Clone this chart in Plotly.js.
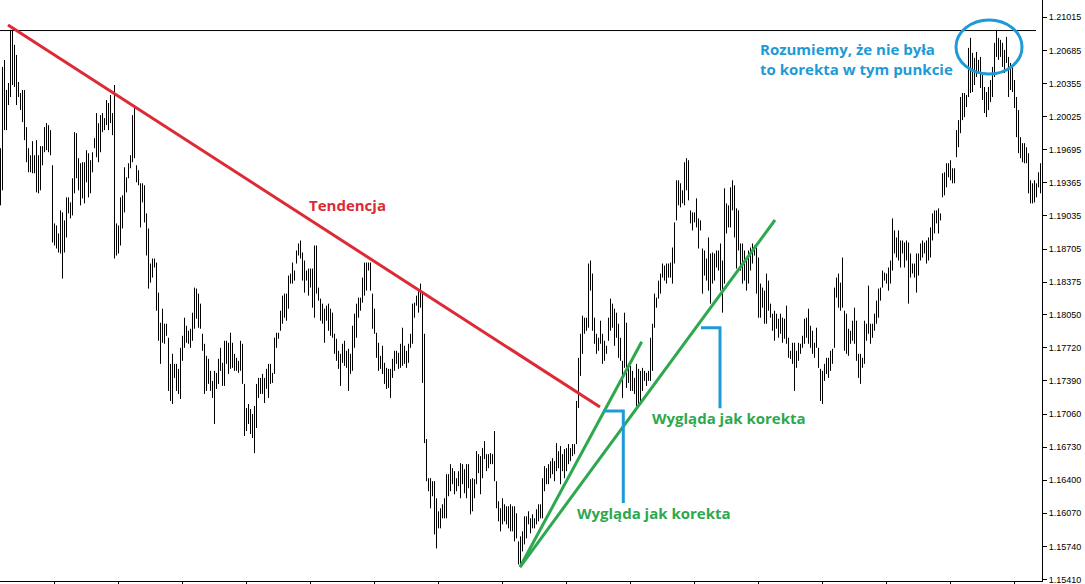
<!DOCTYPE html>
<html>
<head>
<meta charset="utf-8">
<script src="https://cdn.plot.ly/plotly-3.0.1.min.js"></script>
<style>
html, body { margin: 0; padding: 0; background: #fff; }
#chart { width: 1085px; height: 584px; }
</style>
</head>
<body>
<div id="chart"></div>
<script>
// Bar highs / lows, one per bar, left to right
var highs = [
1.1971,1.2052,1.2059,1.2029,1.2036,1.2089,1.2089,1.2074,1.2064,1.2037,
1.2026,1.2029,1.2029,1.1992,1.1971,1.1964,1.1978,1.1964,1.1979,1.1964,
1.1973,1.1973,1.1992,1.1996,1.1994,1.1989,1.1954,1.1896,1.1894,1.1886,
1.1909,1.1907,1.1899,1.1922,1.1922,1.1917,1.1941,1.1987,1.1986,1.1961,
1.1956,1.1957,1.1957,1.1969,1.1966,1.1959,1.1967,1.1981,1.2006,1.1996,
1.2004,1.2006,1.2001,1.2019,1.2016,1.2024,1.2006,1.2034,1.1896,1.1894,
1.1922,1.1924,1.1952,1.1942,1.1956,1.1964,1.2004,1.2014,1.1954,1.1949,
1.1936,1.1936,1.1934,1.1906,1.1891,1.1856,1.1861,1.1861,1.1857,1.1827,
1.1797,1.1811,1.1796,1.1796,1.1782,1.1756,1.1766,1.1756,1.1756,1.1751,
1.1772,1.1784,1.1802,1.1794,1.1789,1.1791,1.1807,1.1832,1.1831,1.1826,
1.1816,1.1786,1.1776,1.1764,1.1761,1.1749,1.1739,1.1749,1.1747,1.1761,
1.1772,1.1757,1.1779,1.1779,1.1777,1.1787,1.1777,1.1766,1.1762,1.1759,
1.1779,1.1776,1.1736,1.1712,1.1716,1.1711,1.1706,1.1714,1.1736,1.1742,
1.1742,1.1746,1.1742,1.1751,1.1756,1.1756,1.1747,1.1782,1.1787,1.1787,
1.1809,1.1824,1.1826,1.1826,1.1844,1.1846,1.1857,1.1849,1.1869,1.1876,
1.1879,1.1867,1.1859,1.1849,1.1851,1.1851,1.1851,1.1874,1.1874,1.1832,
1.1821,1.1816,1.1811,1.1814,1.1816,1.1811,1.1807,1.1786,1.1781,1.1769,
1.1766,1.1776,1.1779,1.1769,1.1771,1.1766,1.1794,1.1806,1.1816,1.1822,
1.1822,1.1842,1.1857,1.1857,1.1857,1.1857,1.1826,1.1811,1.1787,1.1777,
1.1764,1.1774,1.1757,1.1752,1.1751,1.1751,1.1761,1.1769,1.1769,1.1767,
1.1776,1.1792,1.1774,1.1769,1.1776,1.1786,1.1816,1.1817,1.1824,1.1829,
1.1836,1.1826,1.1786,1.1681,1.1642,1.1642,1.1639,1.1639,1.1622,1.1609,
1.1612,1.1616,1.1622,1.1646,1.1646,1.1656,1.1652,1.1649,1.1642,1.1649,
1.1657,1.1656,1.1651,1.1656,1.1656,1.1641,1.1642,1.1641,1.1669,1.1666,
1.1664,1.1672,1.1679,1.1666,1.1666,1.1667,1.1666,1.1689,1.1639,1.1619,
1.1612,1.1622,1.1616,1.1614,1.1614,1.1616,1.1614,1.1614,1.1607,1.1579,
1.1584,1.1589,1.1604,1.1604,1.1609,1.1602,1.1606,1.1602,1.1611,1.1616,
1.1616,1.1642,1.1654,1.1652,1.1656,1.1659,1.1662,1.1659,1.1677,1.1669,
1.1674,1.1666,1.1671,1.1672,1.1676,1.1672,1.1676,1.1676,1.1719,1.1762,
1.1786,1.1804,1.1802,1.1802,1.1856,1.1859,1.1846,1.1802,1.1786,1.1782,
1.1799,1.1786,1.1779,1.1774,1.1802,1.1821,1.1816,1.1811,1.1807,1.1796,
1.1782,1.1759,1.1807,1.1797,1.1756,1.1754,1.1749,1.1742,1.1756,1.1751,
1.1749,1.1752,1.1749,1.1747,1.1749,1.1782,1.1796,1.1826,1.1822,1.1839,
1.1846,1.1856,1.1854,1.1856,1.1856,1.1857,1.1872,1.1897,1.1939,1.1939,
1.1936,1.1929,1.1957,1.1961,1.1959,1.1909,1.1907,1.1907,1.1921,1.1901,
1.1899,1.1871,1.1869,1.1861,1.1882,1.1866,1.1867,1.1866,1.1869,1.1869,
1.1876,1.1859,1.1931,1.1916,1.1914,1.1932,1.1939,1.1934,1.1911,1.1909,
1.1876,1.1876,1.1869,1.1862,1.1869,1.1872,1.1876,1.1874,1.1872,1.1862,
1.1836,1.1832,1.1829,1.1846,1.1839,1.1816,1.1806,1.1809,1.1806,1.1801,
1.1806,1.1802,1.1801,1.1814,1.1782,1.1769,1.1777,1.1777,1.1769,1.1777,
1.1776,1.1784,1.1801,1.1802,1.1811,1.1794,1.1789,1.1777,1.1792,1.1772,
1.1751,1.1749,1.1756,1.1762,1.1762,1.1769,1.1771,1.1832,1.1842,1.1846,
1.1837,1.1862,1.1809,1.1806,1.1791,1.1789,1.1799,1.1812,1.1799,1.1766,
1.1766,1.1762,1.1799,1.1796,1.1834,1.1796,1.1796,1.1806,1.1819,1.1831,
1.1832,1.1849,1.1847,1.1846,1.1852,1.1859,1.1901,1.1889,1.1882,1.1889,
1.1879,1.1879,1.1877,1.1879,1.1877,1.1866,1.1856,1.1856,1.1866,1.1866,
1.1876,1.1879,1.1877,1.1879,1.1882,1.1892,1.1906,1.1909,1.1909,1.1911,
1.1906,1.1946,1.1947,1.1956,1.1956,1.1959,1.1951,1.1951,1.1989,1.1999,
1.2022,1.2026,1.2026,1.2024,1.2071,1.2081,1.2066,1.2061,1.2067,1.2059,
1.2062,1.2046,1.2032,1.2027,1.2032,1.2039,1.2052,1.2076,1.2089,1.2081,
1.2079,1.2076,1.2069,1.2082,1.2062,1.2056,1.2052,1.2039,1.2022,1.2009,
1.1982,1.1976,1.1976,1.1972,1.1966,1.1939,1.1936,1.1939,1.1936,1.1947,
1.1956
];

var lows = [
1.1914,1.1929,1.1989,1.1989,1.2014,1.2022,1.2034,1.2032,1.2014,1.2022,
1.2009,1.1997,1.1979,1.1957,1.1947,1.1947,1.1946,1.1946,1.1927,1.1926,
1.1929,1.1954,1.1967,1.1969,1.1967,1.1964,1.1877,1.1874,1.1871,1.1867,
1.1866,1.1841,1.1867,1.1882,1.1906,1.1901,1.1904,1.1926,1.1941,1.1929,
1.1914,1.1921,1.1916,1.1937,1.1922,1.1926,1.1947,1.1971,1.1962,1.1957,
1.1967,1.1987,1.1989,1.1994,1.1989,1.1996,1.1984,1.1861,1.1864,1.1866,
1.1874,1.1891,1.1907,1.1927,1.1941,1.1951,1.1957,1.1961,1.1937,1.1934,
1.1892,1.1917,1.1897,1.1864,1.1831,1.1837,1.1842,1.1852,1.1809,1.1779,
1.1756,1.1777,1.1776,1.1784,1.1729,1.1719,1.1716,1.1742,1.1729,1.1726,
1.1721,1.1759,1.1772,1.1777,1.1776,1.1772,1.1779,1.1791,1.1801,1.1792,
1.1791,1.1769,1.1726,1.1729,1.1736,1.1729,1.1722,1.1696,1.1731,1.1736,
1.1749,1.1734,1.1734,1.1756,1.1746,1.1751,1.1752,1.1749,1.1749,1.1747,
1.1749,1.1736,1.1684,1.1689,1.1696,1.1686,1.1682,1.1667,1.1692,1.1722,
1.1726,1.1726,1.1717,1.1731,1.1722,1.1736,1.1737,1.1746,1.1772,1.1781,
1.1789,1.1796,1.1802,1.1799,1.1811,1.1836,1.1836,1.1839,1.1856,1.1864,
1.1861,1.1839,1.1827,1.1839,1.1824,1.1832,1.1812,1.1802,1.1826,1.1819,
1.1799,1.1796,1.1777,1.1799,1.1789,1.1784,1.1782,1.1766,1.1759,1.1751,
1.1734,1.1757,1.1754,1.1752,1.1729,1.1746,1.1749,1.1772,1.1782,1.1802,
1.1809,1.1817,1.1824,1.1829,1.1849,1.1829,1.1791,1.1786,1.1762,1.1749,
1.1751,1.1746,1.1736,1.1731,1.1732,1.1722,1.1742,1.1749,1.1756,1.1751,
1.1752,1.1754,1.1756,1.1752,1.1757,1.1772,1.1776,1.1802,1.1814,1.1807,
1.1812,1.1737,1.1677,1.1639,1.1629,1.1612,1.1624,1.1586,1.1572,1.1592,
1.1592,1.1602,1.1602,1.1602,1.1624,1.1629,1.1636,1.1626,1.1629,1.1634,
1.1622,1.1636,1.1627,1.1622,1.1632,1.1606,1.1609,1.1622,1.1636,1.1647,
1.1626,1.1642,1.1661,1.1649,1.1652,1.1656,1.1656,1.1639,1.1612,1.1599,
1.1589,1.1596,1.1599,1.1596,1.1592,1.1589,1.1589,1.1579,1.1582,1.1556,
1.1554,1.1569,1.1576,1.1582,1.1596,1.1587,1.1592,1.1592,1.1596,1.1599,
1.1602,1.1602,1.1629,1.1636,1.1636,1.1642,1.1646,1.1639,1.1649,1.1652,
1.1636,1.1649,1.1642,1.1649,1.1656,1.1659,1.1664,1.1666,1.1676,1.1712,
1.1744,1.1766,1.1786,1.1789,1.1792,1.1829,1.1789,1.1776,1.1766,1.1769,
1.1776,1.1756,1.1759,1.1766,1.1779,1.1789,1.1792,1.1774,1.1782,1.1762,
1.1759,1.1722,1.1752,1.1732,1.1737,1.1729,1.1729,1.1726,1.1714,1.1716,
1.1716,1.1729,1.1739,1.1734,1.1739,1.1739,1.1749,1.1792,1.1812,1.1821,
1.1826,1.1842,1.1839,1.1836,1.1842,1.1842,1.1836,1.1856,1.1899,1.1914,
1.1912,1.1916,1.1914,1.1929,1.1919,1.1896,1.1889,1.1897,1.1892,1.1871,
1.1889,1.1826,1.1844,1.1839,1.1829,1.1816,1.1836,1.1839,1.1852,1.1849,
1.1829,1.1807,1.1836,1.1886,1.1892,1.1892,1.1909,1.1882,1.1851,1.1869,
1.1849,1.1836,1.1839,1.1829,1.1836,1.1849,1.1856,1.1864,1.1826,1.1802,
1.1802,1.1812,1.1796,1.1796,1.1809,1.1802,1.1789,1.1779,1.1791,1.1782,
1.1786,1.1777,1.1781,1.1776,1.1762,1.1761,1.1756,1.1729,1.1752,1.1759,
1.1766,1.1772,1.1776,1.1782,1.1776,1.1772,1.1766,1.1762,1.1772,1.1752,
1.1719,1.1716,1.1739,1.1746,1.1742,1.1749,1.1756,1.1772,1.1822,1.1812,
1.1809,1.1812,1.1769,1.1766,1.1764,1.1776,1.1779,1.1776,1.1759,1.1742,
1.1736,1.1752,1.1756,1.1779,1.1786,1.1776,1.1782,1.1789,1.1796,1.1802,
1.1819,1.1832,1.1839,1.1836,1.1829,1.1836,1.1849,1.1866,1.1862,1.1859,
1.1852,1.1866,1.1852,1.1859,1.1816,1.1842,1.1846,1.1842,1.1827,1.1844,
1.1859,1.1862,1.1866,1.1856,1.1859,1.1862,1.1879,1.1886,1.1896,1.1886,
1.1899,1.1922,1.1924,1.1932,1.1942,1.1939,1.1936,1.1936,1.1962,1.1972,
1.1986,1.1999,1.2002,1.2012,1.2022,1.2026,1.2027,1.2034,1.2042,1.2046,
1.2031,1.2019,1.2006,1.2002,1.2009,1.2017,1.2022,1.2042,1.2062,1.2059,
1.2062,1.2052,1.2046,1.2056,1.2022,1.2029,1.2027,1.2011,1.1982,1.1966,
1.1961,1.1957,1.1956,1.1956,1.1926,1.1916,1.1916,1.1917,1.1922,1.1932,
1.1926
];

// Price scale labels on the right
var yTickLabels = [1.21015, 1.20685, 1.20355, 1.20025, 1.19695, 1.19365, 1.19035, 1.18705, 1.18375,
                   1.18050, 1.17720, 1.17390, 1.17060, 1.16730, 1.16400, 1.16070, 1.15740, 1.15410];

// Level of the double top
var topLevel = 1.20883;

// Texts drawn on the chart
var trendText = 'Tendencja';
var corrText = 'Wygląda jak korekta';
var noteText = 'Rozumiemy, że nie była<br>to korekta w tym punkcie';

var RED = '#dc2a36';
var GREEN = '#2ea84f';
var BLUE = '#1e9ad6';

// Each bar becomes a vertical segment low -> high
function buildBars() {
    var xs = [], ys = [];
    for (var i = 0; i < highs.length; i++) {
        xs.push(i, i, null);
        ys.push(lows[i], highs[i], null);
    }
    return {
        x: xs,
        y: ys,
        mode: 'lines',
        type: 'scatter',
        line: { color: '#000', width: 1 },
        hoverinfo: 'skip'
    };
}

var xTicks = [];
for (var k = 0; k < 16; k++) xTicks.push(26.9 + 32 * k);

function lineShape(x0, y0, x1, y1, color, width) {
    return { type: 'line', xref: 'x', yref: 'y', x0: x0, y0: y0, x1: x1, y1: y1,
             line: { color: color, width: width } };
}

var shapes = [
    lineShape(-0.25, topLevel, 517.75, topLevel, '#000', 1),
    lineShape(3.75, 1.20938, 299.75, 1.17130, RED, 3),
    lineShape(259.75, 1.15534, 320.6, 1.17781, GREEN, 3),
    lineShape(259.75, 1.15534, 387.25, 1.18994, GREEN, 3),
    { type: 'path', xref: 'x', yref: 'y', path: 'M 301.25,1.1709 L 311.4,1.1709 L 311.4,1.16172',
      line: { color: BLUE, width: 3 } },
    { type: 'path', xref: 'x', yref: 'y', path: 'M 350.25,1.1792 L 359.75,1.1792 L 359.75,1.17117',
      line: { color: BLUE, width: 3 } },
    { type: 'circle', xref: 'x', yref: 'y', x0: 477.75, x1: 510.75, y0: 1.2045, y1: 1.20988,
      line: { color: BLUE, width: 3 } }
];

function label(text, x, y, color, anchor) {
    return {
        text: text, x: x, y: y, xref: 'x', yref: 'y', showarrow: false,
        xanchor: anchor || 'center', yanchor: 'middle', align: 'left',
        font: { family: 'Open Sans', size: 15, color: color, weight: 700 }
    };
}

var annotations = [
    label(trendText, 173.5, 1.19144, RED),
    label(corrText, 364, 1.17020, GREEN),
    label(corrText, 326.5, 1.16073, GREEN),
    label(noteText, 378.75, 1.20599, BLUE, 'left')
];

var layout = {
    width: 1085,
    height: 584,
    margin: { l: 0, r: 43, t: 0, b: 3 },
    paper_bgcolor: '#fff',
    plot_bgcolor: '#fff',
    showlegend: false,
    xaxis: {
        range: [-0.25, 520.75],
        showgrid: false, zeroline: false,
        showline: true, linecolor: '#000', linewidth: 1,
        ticks: 'outside', ticklen: 3, tickcolor: '#000',
        tickmode: 'array', tickvals: xTicks, showticklabels: false,
        fixedrange: true
    },
    yaxis: {
        side: 'right',
        range: [1.15395, 1.211875],
        showgrid: false, zeroline: false,
        showline: true, linecolor: '#000', linewidth: 1,
        ticks: 'outside', ticklen: 4, tickcolor: '#000',
        tickmode: 'array',
        tickvals: yTickLabels,
        ticktext: yTickLabels.map(function (v) { return v.toFixed(5); }),
        tickfont: { family: 'Liberation Sans', size: 9, color: '#000' },
        ticklabeloverflow: 'allow',
        fixedrange: true
    },
    shapes: shapes,
    annotations: annotations
};

Plotly.newPlot('chart', [buildBars()], layout, { staticPlot: true, displayModeBar: false });
</script>
</body>
</html>
